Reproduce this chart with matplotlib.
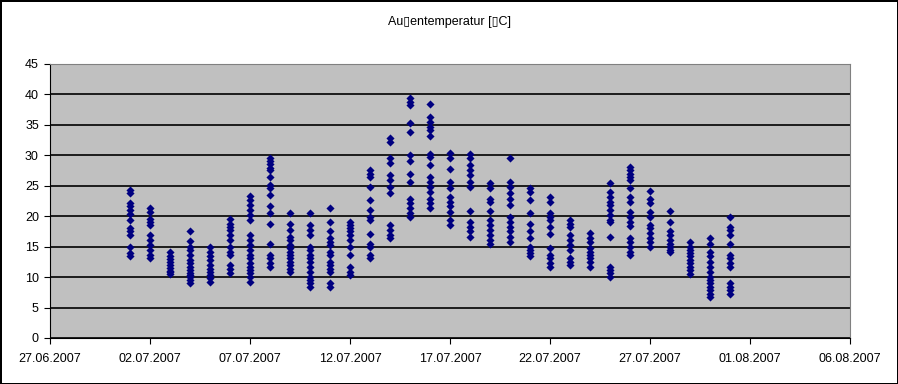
import numpy as np
import matplotlib.pyplot as plt
import matplotlib.dates as mdates
from datetime import datetime, timedelta

# Readings per day, July 2007
day_1 = [24.3, 23.8, 22.1, 21.7, 21.0, 20.4, 19.4, 18.0, 17.5, 16.9, 15.0, 13.9, 13.5]
day_2 = [21.3, 20.7, 19.6, 19.1, 18.6, 16.9, 16.1, 15.3, 14.5, 13.6, 13.1]
day_3 = [14.2, 13.5, 13.0, 12.5, 12.0, 11.5, 11.0, 10.8, 10.5]
day_4 = [17.6, 15.9, 15.0, 14.5, 13.6, 12.8, 12.3, 11.7, 11.2, 10.6, 10.3, 10.1, 9.5, 9.0]
day_5 = [14.9, 14.2, 13.4, 12.8, 12.0, 11.4, 10.9, 10.3, 9.8, 9.2]
day_6 = [19.5, 18.8, 18.3, 17.7, 16.9, 16.1, 14.9, 14.2, 13.6, 12.0, 11.4, 10.6]
day_7 = [23.3, 22.7, 21.8, 21.0, 20.2, 19.4, 16.9, 16.1, 15.3, 14.5, 13.6, 13.1,
         12.3, 11.7, 11.2, 10.6, 10.1, 9.2]
day_8 = [29.5, 29.0, 28.5, 28.0, 27.6, 26.5, 25.1, 24.6, 23.5, 21.7, 20.6, 18.8,
         15.4, 13.6, 13.1, 12.3, 11.7]
day_9 = [20.6, 18.8, 17.7, 16.6, 16.1, 15.3, 14.7, 14.2, 13.6, 13.1, 12.5, 12.0, 11.4, 10.9]
day_10 = [20.6, 18.6, 17.7, 16.9, 15.0, 14.5, 13.6, 13.1, 12.5, 11.7, 10.9, 10.1, 9.5, 9.0, 8.4]
day_11 = [21.3, 19.1, 17.6, 16.4, 15.8, 15.3, 14.2, 13.6, 12.5, 12.0, 11.4, 10.9, 9.0, 8.4]
day_12 = [19.1, 18.6, 18.0, 17.5, 16.9, 16.1, 14.9, 13.6, 11.7, 10.9, 10.3]
day_13 = [27.6, 27.0, 26.5, 24.8, 22.7, 21.1, 19.9, 19.4, 17.0, 15.5, 15.0, 13.6, 13.1]
day_14 = [32.8, 32.2, 29.5, 28.7, 26.8, 25.9, 24.8, 23.8, 18.6, 17.7, 16.9, 16.4]
day_15 = [39.4, 38.8, 38.3, 35.3, 33.9, 30.0, 29.0, 27.0, 25.7, 22.9, 22.1, 21.3, 20.5, 19.9]
day_16 = [38.5, 36.3, 35.5, 34.7, 34.2, 33.1, 30.3, 29.8, 28.4, 26.5, 25.7, 24.8,
          24.0, 22.9, 22.1, 21.3]
day_17 = [30.4, 29.5, 27.7, 25.7, 24.6, 23.2, 22.4, 21.6, 20.7, 19.4, 18.6]
day_18 = [30.3, 29.5, 28.4, 27.6, 26.8, 25.7, 24.8, 20.9, 19.1, 18.3, 17.5, 16.6]
day_19 = [25.4, 24.6, 22.9, 22.4, 20.9, 19.4, 18.6, 17.7, 16.9, 16.1, 15.5]
day_20 = [29.5, 25.7, 24.8, 23.8, 22.9, 21.8, 19.9, 19.1, 18.3, 17.5, 16.6, 15.8]
day_21 = [24.6, 24.0, 22.7, 20.5, 18.7, 17.5, 16.4, 15.0, 14.5, 13.9, 13.4]
day_22 = [23.2, 22.4, 20.6, 19.9, 19.4, 18.3, 17.1, 14.7, 13.6, 13.1, 12.3, 11.7]
day_23 = [19.4, 18.8, 18.3, 16.9, 16.1, 15.3, 14.5, 13.1, 12.5, 12.0]
day_24 = [17.2, 16.5, 15.8, 14.7, 14.2, 13.6, 13.1, 12.5, 11.7]
day_25 = [25.5, 24.0, 23.2, 22.4, 21.8, 21.0, 20.2, 19.4, 19.0, 16.6, 11.7, 11.2, 10.6, 10.1]
day_26 = [28.1, 27.6, 27.0, 26.5, 25.9, 24.6, 23.2, 22.4, 20.7, 19.9, 19.1, 18.4,
          16.4, 15.8, 15.0, 14.2, 13.6]
day_27 = [24.2, 22.9, 22.1, 20.7, 19.9, 18.6, 18.0, 17.2, 16.4, 15.8, 15.0]
day_28 = [20.9, 19.1, 17.6, 16.9, 16.1, 15.5, 15.0, 14.5, 14.1]
day_29 = [15.8, 15.0, 14.5, 13.9, 13.4, 12.8, 12.3, 11.7, 11.2, 10.5]
day_30 = [16.4, 15.5, 14.2, 13.4, 12.5, 11.7, 10.9, 10.1, 9.5, 9.0, 8.4, 7.9, 7.3, 6.8]
day_31 = [19.9, 18.3, 17.7, 16.9, 15.5, 13.6, 13.1, 12.3, 11.7, 9.0, 8.4, 7.9, 7.3]

days = [day_1, day_2, day_3, day_4, day_5, day_6, day_7, day_8, day_9, day_10,
        day_11, day_12, day_13, day_14, day_15, day_16, day_17, day_18, day_19,
        day_20, day_21, day_22, day_23, day_24, day_25, day_26, day_27, day_28,
        day_29, day_30, day_31]

# the original title shows undecodable characters as boxes
title = "Au\u25afentemperatur [\u25afC]"

start = datetime(2007, 7, 1)
x = []
y = []
for i, vals in enumerate(days):
    d = start + timedelta(days=i)
    x += [d] * len(vals)
    y += vals

fig = plt.figure(figsize=(8.98, 3.84), dpi=100)
fig.patch.set_facecolor('white')
fig.patch.set_edgecolor('black')
fig.patch.set_linewidth(2)

ax = fig.add_axes([50 / 898, 1 - 338 / 384, 800 / 898, 274 / 384])
ax.set_facecolor('#C0C0C0')
ax.scatter(x, y, marker='D', s=17, color='#000080', zorder=3, linewidths=0)

ax.set_xlim(datetime(2007, 6, 27), datetime(2007, 8, 6))
ax.set_ylim(0, 45)
ax.set_yticks(np.arange(0, 46, 5))
ticks = [datetime(2007, 6, 27) + timedelta(days=5 * k) for k in range(9)]
ax.set_xticks(ticks)
ax.xaxis.set_major_formatter(mdates.DateFormatter('%d.%m.%Y'))

ax.grid(axis='y', color='black', linewidth=1.2, zorder=1)
ax.set_axisbelow(True)
ax.spines['left'].set_color('black')
ax.spines['bottom'].set_color('black')
ax.spines['top'].set_color('#808080')
ax.spines['right'].set_color('#808080')
ax.tick_params(axis='both', direction='out', length=4, color='black',
               labelsize=9, pad=4)
ax.tick_params(axis='x', pad=7)
for lbl in ax.get_xticklabels() + ax.get_yticklabels():
    lbl.set_family(['Liberation Sans', 'DejaVu Sans'])

fig.text(0.5, 1 - 22 / 384, title, ha='center', va='center', fontsize=9,
         family=['Liberation Sans', 'DejaVu Sans'])

fig.savefig('out.png', dpi=100, facecolor=fig.get_facecolor(),
            edgecolor=fig.get_edgecolor())
